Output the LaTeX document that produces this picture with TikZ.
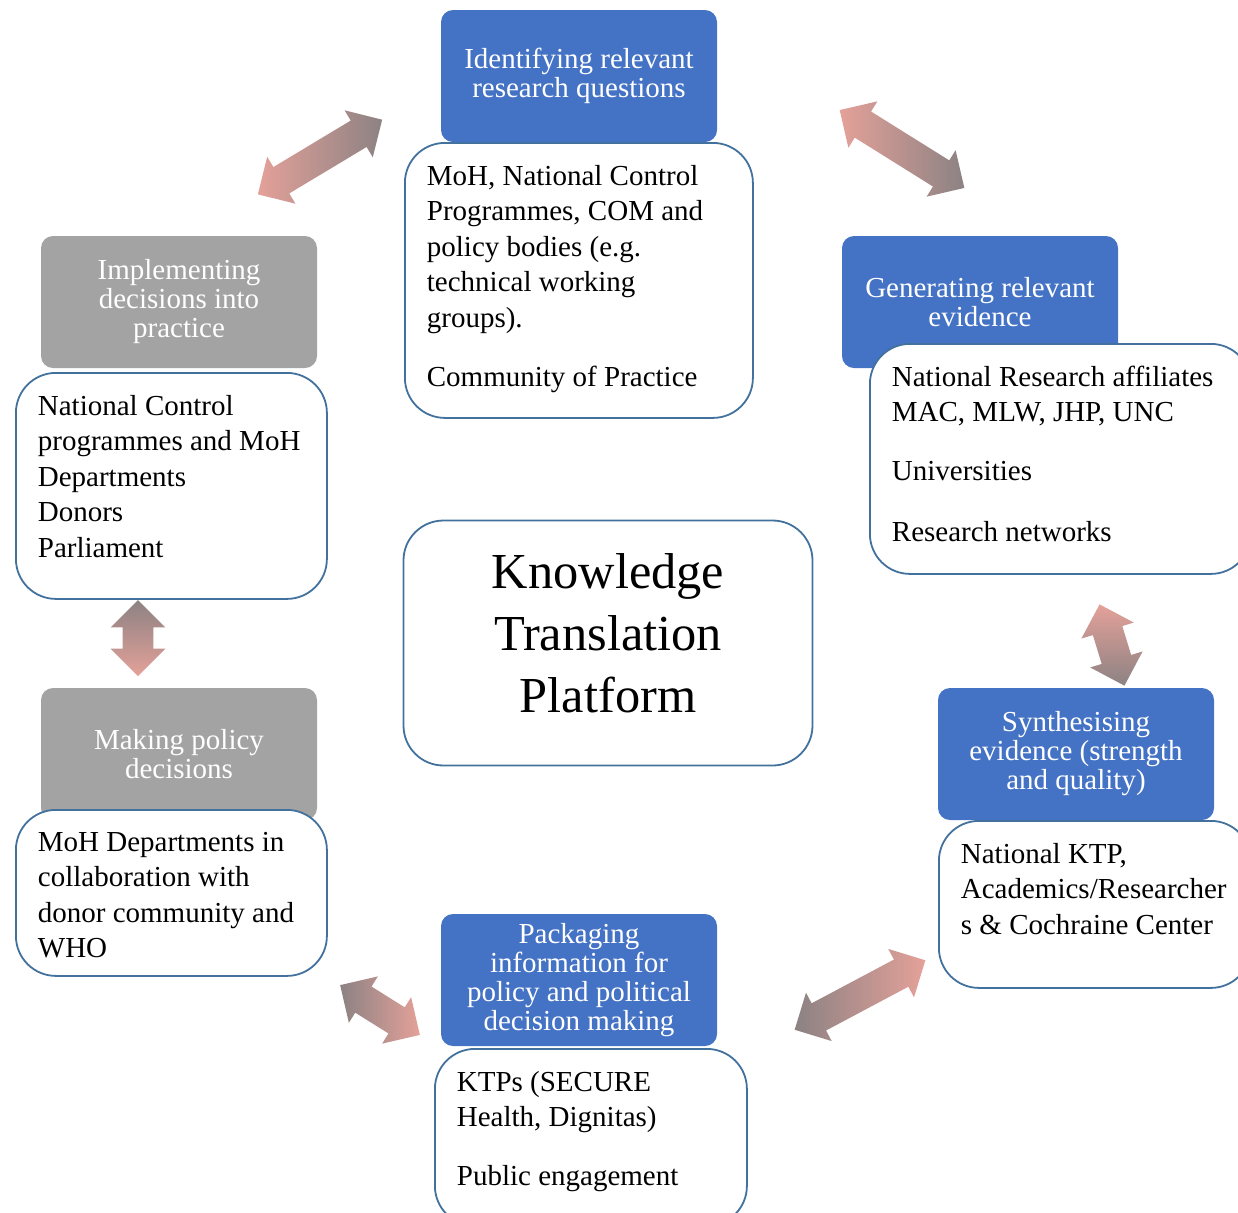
\documentclass[tikz,border=0pt]{standalone}
\usepackage{fontspec}
\setmainfont{Liberation Serif}
\usetikzlibrary{shapes.arrows}
\definecolor{kblue}{HTML}{4472C4}
\definecolor{kgray}{HTML}{A3A3A3}
\definecolor{kline}{HTML}{41719C}
\definecolor{kpink}{HTML}{E4A199}
\definecolor{kdark}{HTML}{8C8283}
\newcommand{\infotext}[3]{\parbox[c][#2][t]{#1}{\raggedright #3}}

\begin{document}
\begin{tikzpicture}[x=0.5pt, y=-0.5pt,
  head/.style={rounded corners=6pt, minimum width=138pt, minimum height=66pt, inner sep=0pt, text=white, align=center, font=\fontsize{14.5}{14.5}\selectfont},
  bluehead/.style={head, fill=kblue},
  grayhead/.style={head, fill=kgray},
  info/.style={draw=kline, line width=0.9pt, fill=white, rounded corners=20pt, anchor=north west, inner sep=11pt, font=\fontsize{14.5}{17.8}\selectfont},
  twoway/.style={double arrow, double arrow head extend=6pt, double arrow tip angle=90, inner xsep=0pt, inner ysep=7.5pt}]
  \clip (0,0) rectangle (1238,1212);

  \node[bluehead] (identify)  at (579,76)   {Identifying relevant\\research questions};
  \node[bluehead] (generate)  at (980,302)  {Generating relevant\\evidence};
  \node[grayhead] (implement) at (179,302)  {Implementing\\decisions into\\practice};
  \node[grayhead] (decide)    at (179,754)  {Making policy\\decisions};
  \node[bluehead] (synth)     at (1076,754) {Synthesising\\evidence (strength\\and quality)};
  \node[bluehead] (package)   at (579,980)  {Packaging\\information for\\policy and political\\decision making};

  \node[info] (identifyinfo) at (404,142) {\infotext{152pt}{115.5pt}{MoH, National Control\\Programmes, COM and\\policy bodies (e.g.\\technical working\\groups).\\[11.5pt]Community of Practice}};
  \node[info] (generateinfo) at (869,343) {\infotext{168.5pt}{93pt}{National Research affiliates\\MAC, MLW, JHP, UNC\\[11.5pt]Universities\\[12.5pt]Research networks}};
  \node[info] (implementinfo) at (15,372) {\infotext{133.5pt}{91pt}{National Control\\programmes and MoH\\Departments\\Donors\\Parliament}};
  \node[info] (decideinfo) at (15,809) {\infotext{133.5pt}{61pt}{MoH Departments in\\collaboration with\\donor community and\\WHO}};
  \node[info] (synthinfo) at (938,820) {\infotext{134pt}{61.5pt}{National KTP,\\Academics/Researcher\\s \& Cochraine Center}};
  \node[info] (packageinfo) at (434,1048) {\infotext{134pt}{66.5pt}{KTPs (SECURE\\Health, Dignitas)\\[11.5pt]Public engagement}};

  \node[draw=kline, line width=0.9pt, rounded corners=20pt, minimum width=204.5pt, minimum height=122.5pt, align=center, font=\fontsize{25.2}{31}\selectfont] (ktp) at (608,643) {Knowledge\\Translation\\Platform\\[-21pt]\mbox{}};

  \node[twoway, minimum height=72.5pt, rotate=31, left color=kpink, right color=kdark] (implementidentify) at (320,157) {};
  \node[twoway, minimum height=73.5pt, rotate=-32, left color=kpink, right color=kdark] (identifygenerate) at (902,149) {};
  \node[twoway, minimum height=38pt, rotate=90, top color=kdark, bottom color=kpink] (decideimplement) at (138,638) {};
  \node[twoway, minimum height=42.5pt, rotate=-73, top color=kpink, bottom color=kdark] (generatesynth) at (1112,645) {};
  \node[twoway, minimum height=47pt, rotate=-32, left color=kdark, right color=kpink] (packagedecide) at (380,1010) {};
  \node[twoway, minimum height=74pt, rotate=28, left color=kdark, right color=kpink] (synthpackage) at (860,995) {};
\end{tikzpicture}
\end{document}
